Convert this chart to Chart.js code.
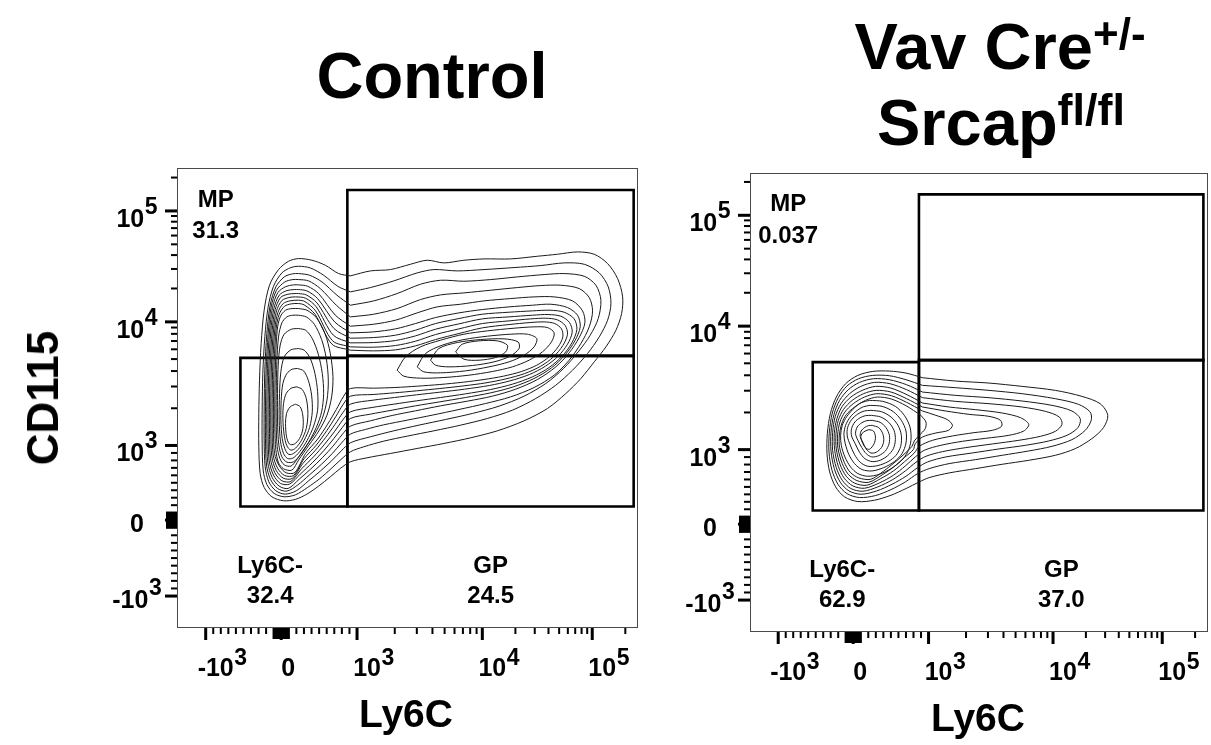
<!DOCTYPE html>
<html>
<head>
<meta charset="utf-8">
<title>CD115 vs Ly6C</title>
<script src="https://cdn.jsdelivr.net/npm/chart.js@4.4.1/dist/chart.umd.min.js"></script>
<style>
  html, body { margin: 0; padding: 0; background: #fff; }
  body {
    width: 1211px; height: 745px; position: relative; overflow: hidden;
    font-family: "Liberation Sans", Arial, sans-serif; font-weight: bold; color: #000;
  }
  .panel { position: absolute; left: 0; top: 0; width: 1211px; height: 745px; }
  .txt { position: absolute; white-space: nowrap; line-height: 1; }
  .sup { position: relative; }
</style>
</head>
<body>
<div class="panel"><canvas id="controlChart"></canvas></div>
<div class="panel"><canvas id="srcapChart"></canvas></div>

<div class="txt" style="left:432px; top:43px; font-size:65px; transform:translateX(-50%)">Control</div>
<div class="txt" style="left:1000px; top:14px; font-size:65px; transform:translateX(-50%)">Vav Cre<span class="sup" style="font-size:44px; top:-20px">+/-</span></div>
<div class="txt" style="left:1001px; top:90px; font-size:65px; transform:translateX(-50%)">Srcap<span class="sup" style="font-size:45px; top:-20px">fl/fl</span></div>
<div class="txt" style="left:43px; top:398px; font-size:44px; transform:translate(-50%,-50%) rotate(-90deg)">CD115</div>
<div class="txt" style="left:406px; top:694px; font-size:39px; transform:translateX(-50%)">Ly6C</div>
<div class="txt" style="left:978px; top:698px; font-size:39px; transform:translateX(-50%)">Ly6C</div>

<script>
// Axes are in display channels (0..1376), FlowJo biexponential style
const axisMin = 0;
const axisMax = 1376;

// Major ticks: value, channel on x / y, label (base + exponent)
const majorTickValues = [-1000, 0, 1000, 10000, 100000];
const xTickChannels = [85, 311, 538, 913, 1242];
const yTickChannels = [92, 320, 544, 915, 1248];
const tickBase = ["-10", "0", "10", "10", "10"];
const tickExp = ["3", "", "3", "4", "5"];

// Gates (channels): Ly6C- left, split, right / bottom, Ly6C- top, GP top, MP top
const gateX = [189, 509, 1366];
const gateY = [361, 807, 813, 1311];
const gateNames = ["MP", "Ly6C-", "GP"];
const controlPercents = ["31.3", "32.4", "24.5"];
const srcapPercents = ["0.037", "62.9", "37.0"];

// Contour lines (x, y pairs in channels)
const controlContours = [
  [518,1053, 578,1068, 638,1072, 698,1088, 748,1100, 798,1092, 858,1100, 918,1104, 998,1104, 1078,1112, 1138,1118, 1198,1125, 1248,1118, 1288,1090, 1318,1045, 1333,990, 1330,940, 1313,890, 1283,840, 1248,795, 1208,745, 1163,700, 1108,655, 1038,618, 958,588, 878,567, 798,550, 718,535, 638,520, 568,507, 518,495, 488,475, 458,450, 423,422, 388,398, 353,382, 318,378, 283,390, 260,418, 248,460, 244,540, 244,640, 246,740, 251,850, 260,950, 276,1025, 303,1072, 333,1097, 363,1105, 403,1100, 443,1085, 483,1060],
  [518,1005, 578,1018, 648,1038, 718,1062, 768,1072, 838,1068, 918,1072, 1008,1078, 1088,1084, 1158,1092, 1218,1088, 1263,1062, 1290,1020, 1298,970, 1288,920, 1263,870, 1228,820, 1183,770, 1133,725, 1073,685, 1003,650, 928,625, 848,605, 768,588, 688,572, 618,557, 558,540, 518,525, 490,502, 460,474, 426,444, 390,418, 354,396, 320,390, 290,400, 268,427, 257,470, 254,550, 254,650, 256,760, 262,870, 272,960, 288,1022, 313,1062, 340,1078, 363,1082, 398,1077, 438,1055, 480,1022],
  [518,965, 588,978, 658,1000, 728,1028, 788,1040, 858,1037, 938,1042, 1018,1050, 1098,1057, 1158,1060, 1218,1052, 1253,1025, 1268,980, 1260,925, 1236,875, 1200,825, 1156,775, 1103,730, 1038,692, 963,662, 883,640, 803,622, 723,605, 648,588, 578,570, 518,552, 491,528, 462,498, 428,467, 392,437, 356,408, 323,398, 295,408, 274,435, 263,480, 260,560, 260,660, 262,770, 268,880, 278,965, 295,1020, 320,1050, 344,1059, 363,1060, 396,1055, 433,1035, 478,995],
  [518,930, 588,938, 658,955, 728,982, 788,996, 858,1002, 938,1010, 1018,1018, 1088,1024, 1148,1025, 1203,1015, 1233,988, 1243,948, 1233,900, 1208,850, 1173,800, 1128,755, 1068,718, 998,690, 923,670, 843,652, 763,635, 688,620, 618,606, 563,592, 518,578, 492,552, 464,520, 432,488, 396,456, 360,425, 328,407, 300,415, 279,442, 267,485, 264,565, 264,660, 266,770, 272,880, 281,960, 297,1010, 322,1035, 346,1042, 363,1042, 393,1038, 428,1015, 476,965],
  [518,902, 588,908, 653,920, 718,942, 778,960, 848,968, 918,978, 998,985, 1068,990, 1128,990, 1183,978, 1213,948, 1220,912, 1203,868, 1173,822, 1133,780, 1078,742, 1013,713, 943,692, 868,677, 788,663, 713,648, 643,634, 578,618, 518,602, 493,576, 466,542, 435,508, 400,474, 364,442, 332,415, 305,422, 284,448, 271,492, 268,570, 268,665, 270,775, 276,885, 285,958, 301,1003, 325,1021, 348,1026, 363,1026, 390,1022, 423,1000, 473,935],
  [518,882, 588,885, 653,894, 713,910, 773,928, 843,942, 913,952, 993,960, 1063,965, 1118,968, 1168,958, 1198,935, 1206,900, 1190,858, 1160,815, 1120,777, 1068,745, 1006,720, 938,702, 863,688, 786,675, 713,663, 643,650, 578,638, 518,625, 494,598, 468,564, 438,528, 404,492, 368,458, 336,428, 309,430, 288,455, 275,498, 272,575, 272,670, 274,780, 280,888, 289,955, 305,995, 328,1009, 350,1012, 363,1012, 388,1008, 420,985, 471,915],
  [518,866, 588,868, 653,875, 713,890, 773,910, 843,925, 913,938, 993,944, 1063,948, 1116,950, 1158,944, 1188,924, 1196,892, 1181,852, 1152,812, 1113,778, 1063,750, 1003,728, 938,712, 863,699, 788,688, 716,678, 648,668, 583,658, 518,645, 495,620, 470,585, 441,548, 408,510, 372,474, 340,436, 313,438, 292,462, 279,504, 276,580, 276,675, 278,784, 284,890, 293,952, 309,988, 331,998, 352,1000, 363,1000, 386,996, 418,972, 469,895],
  [518,852, 588,853, 653,859, 713,873, 773,893, 843,909, 913,924, 993,930, 1063,935, 1110,937, 1148,932, 1174,913, 1182,884, 1168,848, 1140,812, 1102,782, 1054,757, 996,738, 934,724, 860,713, 786,704, 716,696, 650,688, 586,680, 518,668, 496,643, 472,607, 444,568, 412,528, 376,490, 344,445, 317,446, 296,469, 283,510, 280,585, 280,680, 282,788, 288,892, 297,948, 313,979, 334,988, 354,990, 384,986, 416,960, 467,875],
  [518,840, 588,839, 653,844, 713,857, 773,877, 843,894, 913,910, 993,918, 1058,924, 1103,926, 1138,921, 1161,904, 1168,878, 1154,844, 1126,810, 1088,782, 1040,760, 984,744, 924,732, 858,723, 786,715, 716,708, 650,702, 586,697, 518,692, 497,668, 474,630, 447,588, 416,545, 380,505, 348,454, 321,454, 300,476, 287,515, 284,590, 284,685, 286,792, 292,894, 301,943, 317,970, 337,978, 363,980, 382,976, 414,948, 465,858],
  [518,830, 588,828, 653,831, 713,843, 773,862, 843,880, 913,897, 993,907, 1056,913, 1098,915, 1130,910, 1150,894, 1154,870, 1140,840, 1113,810, 1076,785, 1030,766, 976,752, 918,742, 856,734, 786,727, 718,722, 652,718, 588,716, 518,715, 498,692, 476,652, 450,608, 420,563, 384,520, 352,463, 326,462, 305,483, 291,520, 288,595, 288,690, 290,795, 296,896, 305,938, 321,962, 341,969, 363,970, 380,966, 412,938, 463,848],
  [363,955, 388,950, 416,928, 442,880, 458,820, 466,750, 462,690, 448,635, 424,588, 394,545, 363,500, 343,470, 318,474, 303,492, 295,530, 292,600, 292,695, 294,795, 299,890, 308,930, 324,950, 344,955],
  [363,935, 386,930, 410,908, 432,862, 446,805, 452,740, 448,680, 434,625, 412,580, 384,540, 358,502, 340,482, 320,486, 307,505, 299,540, 296,610, 296,700, 298,795, 303,870, 313,912, 328,930, 346,935],
  [363,895, 384,890, 404,865, 422,818, 434,760, 438,700, 432,645, 416,598, 394,555, 370,518, 348,495, 328,494, 313,510, 304,545, 300,615, 300,700, 302,785, 308,845, 320,878, 342,893],
  [362,835, 380,830, 398,805, 412,760, 420,705, 420,650, 408,602, 388,558, 366,525, 346,506, 330,505, 318,520, 309,555, 305,620, 306,700, 310,765, 320,810, 340,831],
  [360,775, 378,768, 392,740, 402,695, 404,645, 396,598, 380,560, 362,532, 344,518, 332,518, 322,534, 314,565, 310,620, 311,680, 316,730, 328,760, 344,773],
  [358,720, 374,712, 386,685, 391,640, 386,595, 372,560, 354,536, 340,530, 328,543, 320,575, 316,625, 318,670, 326,700, 341,716],
  [354,668, 368,660, 376,632, 376,595, 366,565, 350,548, 336,548, 327,570, 324,610, 327,640, 338,660],
  [658,770, 683,810, 728,840, 788,860, 858,878, 928,888, 1008,896, 1068,900, 1108,898, 1128,882, 1120,855, 1093,825, 1053,800, 1003,780, 943,766, 873,755, 798,748, 728,746, 678,752],
  [718,780, 743,820, 793,845, 858,862, 928,872, 998,878, 1048,878, 1076,865, 1068,840, 1038,815, 993,795, 933,780, 863,768, 788,762, 738,765],
  [758,800, 783,835, 838,853, 908,862, 978,864, 1020,855, 1023,835, 996,812, 948,795, 883,784, 813,780, 773,785],
  [833,825, 853,848, 903,858, 958,858, 988,845, 983,825, 953,808, 903,800, 858,803]
];

const srcapContours = [
  [520,760, 620,750, 720,744, 820,734, 920,722, 1000,704, 1055,682, 1078,647, 1065,610, 1030,577, 980,547, 920,527, 840,512, 760,500, 680,487, 600,474, 540,460, 510,447, 470,427, 425,407, 375,392, 325,388, 285,402, 258,432, 240,477, 232,532, 233,592, 242,652, 260,702, 288,742, 325,767, 370,779, 420,780, 470,774],
  [520,737, 620,730, 720,722, 820,712, 920,697, 990,680, 1025,657, 1028,632, 1010,602, 970,574, 910,554, 840,540, 760,527, 680,514, 600,502, 540,487, 505,472, 468,447, 425,424, 378,406, 330,400, 292,412, 265,440, 247,482, 238,537, 239,597, 248,654, 266,700, 292,735, 327,757, 370,767, 420,766, 470,754],
  [520,717, 620,707, 720,700, 820,690, 910,677, 970,660, 995,637, 988,610, 955,587, 900,570, 830,557, 750,546, 670,534, 590,522, 535,507, 505,490, 470,464, 428,440, 382,420, 335,410, 298,420, 272,446, 254,487, 244,540, 244,597, 253,650, 270,692, 296,724, 330,746, 372,757, 420,754, 472,739],
  [520,700, 620,689, 720,682, 820,672, 890,659, 932,642, 940,620, 920,599, 875,584, 810,572, 730,561, 650,550, 580,538, 530,524, 500,506, 468,480, 430,454, 385,432, 340,419, 304,427, 278,452, 260,490, 249,542, 249,595, 257,644, 274,682, 300,712, 334,734, 375,746, 422,742, 472,724],
  [520,684, 600,672, 680,664, 760,654, 815,640, 840,620, 825,600, 780,587, 710,578, 640,569, 575,557, 525,542, 498,522, 468,495, 432,467, 390,444, 345,428, 310,435, 284,458, 266,494, 255,544, 254,593, 262,638, 278,674, 304,702, 338,722, 378,734, 424,729, 473,709],
  [520,672, 590,660, 660,650, 720,644, 755,632, 758,614, 730,602, 675,595, 610,585, 550,572, 510,554, 495,534, 466,508, 432,480, 394,457, 352,437, 316,443, 290,464, 272,498, 260,546, 259,590, 266,632, 282,665, 308,692, 342,712, 380,722, 425,717, 472,697],
  [520,660, 560,647, 595,634, 610,617, 598,602, 560,594, 520,582, 498,562, 492,544, 465,520, 433,492, 398,468, 358,446, 322,451, 296,470, 278,502, 265,548, 264,588, 271,627, 286,657, 311,682, 345,702, 382,712, 426,706, 472,686],
  [515,647, 530,627, 528,607, 510,587, 495,570, 488,554, 464,530, 434,504, 402,479, 364,455, 328,459, 302,476, 284,506, 270,550, 269,585, 276,621, 290,649, 315,672, 348,692, 384,702, 426,696, 470,676],
  [360,692, 400,689, 438,674, 465,647, 482,612, 485,572, 475,537, 455,510, 425,487, 390,470, 355,464, 325,472, 303,492, 286,522, 275,557, 273,587, 278,617, 292,644, 315,670, 335,685],
  [362,677, 398,674, 432,658, 456,632, 470,600, 470,564, 458,532, 435,508, 403,490, 368,480, 338,484, 315,502, 298,529, 287,562, 283,590, 288,617, 302,642, 323,662, 342,673],
  [364,662, 396,658, 425,642, 446,617, 456,587, 454,554, 440,527, 416,508, 385,496, 355,494, 332,506, 315,529, 302,558, 293,585, 294,610, 306,634, 325,651, 344,660],
  [366,647, 394,642, 418,626, 434,602, 438,574, 432,547, 415,526, 392,512, 368,508, 346,517, 330,536, 317,562, 306,585, 306,607, 316,627, 332,640, 348,646],
  [368,632, 392,626, 410,610, 420,587, 419,562, 408,540, 388,526, 367,522, 350,532, 337,550, 325,572, 318,592, 323,612, 337,625, 352,631],
  [368,617, 388,610, 400,592, 403,570, 396,550, 380,536, 364,534, 350,546, 340,566, 332,584, 335,600, 346,611, 357,616],
  [358,604, 372,600, 378,582, 374,562, 360,545, 348,550, 338,567, 334,584, 342,597]
];

// Gate label anchors in channels: [x, name baseline, percent baseline]
const gateTextAnchors = [[115, 1260, 1166], [278, 162, 70], [938, 162, 70]];

// minor ticks: linear part around zero, log decades above
const minorTickValues = [];
for (let k = 1; k <= 9; k++) minorTickValues.push(-k * 100, k * 100, -k * 10, k * 10);
for (let k = 2; k <= 9; k++) minorTickValues.push(k * 1000, k * 10000);
minorTickValues.push(200000);

function toChannel(v, ch) {
  if (v <= 1000) return ch[1] + (v / 1000) * (v < 0 ? ch[1] - ch[0] : ch[2] - ch[1]);
  const d = Math.log10(v);
  if (d <= 4) return ch[2] + (d - 3) * (ch[3] - ch[2]);
  return ch[3] + (d - 4) * (ch[4] - ch[3]);
}

const FONT = '"Liberation Sans", Arial, sans-serif';

const flowAxesPlugin = {
  id: "flowAxes",
  afterDraw(chart, args, opts) {
    const { ctx, chartArea: a, scales } = chart;
    const xs = scales.x, ys = scales.y;
    ctx.save();

    // plot frame
    ctx.strokeStyle = "#4a4a4a";
    ctx.lineWidth = 1;
    const L = Math.round(a.left), T = Math.round(a.top);
    ctx.strokeRect(L + 0.5, T + 0.5, Math.round(a.right) - L, Math.round(a.bottom) - T);

    ctx.fillStyle = "#000";
    const bottom = Math.round(a.bottom) + 1;
    const left = L;

    // minor ticks (the dense ones round zero are drawn long, as in FlowJo)
    minorTickValues.forEach((v) => {
      const near0 = Math.abs(v) <= 100;
      const len = near0 ? 11 : 6;
      const w = near0 ? 2.2 : 2;
      const cx = toChannel(v, xTickChannels);
      if (cx > axisMin && cx < axisMax) ctx.fillRect(xs.getPixelForValue(cx) - w / 2, bottom, w, len);
      const cy = toChannel(v, yTickChannels);
      if (cy > axisMin && cy < axisMax) ctx.fillRect(left - len, ys.getPixelForValue(cy) - w / 2, len, w);
    });
    // major ticks
    xTickChannels.forEach((c) => ctx.fillRect(xs.getPixelForValue(c) - 1.5, bottom, 3, 12));
    yTickChannels.forEach((c) => ctx.fillRect(left - 12, ys.getPixelForValue(c) - 1.5, 12, 3));

    // tick labels with exponents
    const baseFont = "bold 25px " + FONT;
    const expFont = "bold 23px " + FONT;
    ctx.textBaseline = "alphabetic";
    majorTickValues.forEach((v, i) => {
      const base = tickBase[i], exp = tickExp[i];
      ctx.font = baseFont;
      const wb = ctx.measureText(base).width;
      ctx.font = expFont;
      const we = exp ? ctx.measureText(exp).width : 0;

      // x axis
      const px = xs.getPixelForValue(xTickChannels[i]);
      const bx = px + (exp ? 10 : 7) - wb / 2;
      const by = bottom + 48;
      ctx.font = baseFont; ctx.textAlign = "left";
      ctx.fillText(base, bx, by);
      if (exp) { ctx.font = expFont; ctx.fillText(exp, bx + wb + 0.5, by - 11); }

      // y axis
      const py = ys.getPixelForValue(yTickChannels[i]);
      const total = wb + (exp ? we + 0.5 : 0);
      const lx = left - 40 - total / 2;
      const ly = py + (exp && v > 0 ? 16 : 12);
      ctx.font = baseFont;
      ctx.fillText(base, lx, ly);
      if (exp) { ctx.font = expFont; ctx.fillText(exp, lx + wb + 0.5, ly - 13); }
    });

    // gate names and percentages
    ctx.font = "bold 24px " + FONT;
    ctx.textAlign = "center";
    gateNames.forEach((name, i) => {
      const [gx, gy1, gy2] = gateTextAnchors[i];
      const tx = xs.getPixelForValue(gx);
      ctx.fillText(name, tx, ys.getPixelForValue(gy1));
      ctx.fillText(opts.percents[i], tx, ys.getPixelForValue(gy2));
    });
    ctx.restore();
  },
};

function contourSets(list) {
  return list.map((flat) => {
    const pts = [];
    for (let i = 0; i < flat.length; i += 2) pts.push({ x: flat[i], y: flat[i + 1] });
    pts.push(pts[0]);
    return {
      data: pts, showLine: true, borderColor: "#1a1a1a", borderWidth: 1,
      pointRadius: 0, tension: 0.3, fill: false,
    };
  });
}

function rect(x0, y0, x1, y1) {
  return [
    { x: x0, y: y0 }, { x: x1, y: y0 }, { x: x1, y: y1 },
    { x: x0, y: y1 }, { x: x0, y: y0 }, { x: x1, y: y0 },
  ];
}

function gateSets() {
  const gates = [
    rect(gateX[0], gateY[0], gateX[1], gateY[1]), // Ly6C-
    rect(gateX[1], gateY[0], gateX[2], gateY[2]), // GP
    rect(gateX[1], gateY[2], gateX[2], gateY[3]), // MP
  ];
  return gates.map((g) => ({
    data: g, showLine: true, borderColor: "#000", borderWidth: 2.6,
    pointRadius: 0, tension: 0, fill: false,
  }));
}

function makeChart(id, pad, contours, percents) {
  return new Chart(document.getElementById(id), {
    type: "scatter",
    data: { datasets: [...contourSets(contours), ...gateSets()] },
    options: {
      responsive: true,
      maintainAspectRatio: false,
      animation: false,
      events: [],
      layout: { padding: pad },
      scales: {
        x: { type: "linear", min: axisMin, max: axisMax, display: false },
        y: { type: "linear", min: axisMin, max: axisMax, display: false },
      },
      plugins: {
        legend: { display: false },
        tooltip: { enabled: false },
        flowAxes: { percents: percents },
      },
    },
    plugins: [flowAxesPlugin],
  });
}

makeChart("controlChart", { left: 177.3, top: 168.3, right: 574, bottom: 118.3 }, controlContours, controlPercents);
makeChart("srcapChart", { left: 750, top: 172.7, right: 4.3, bottom: 114.3 }, srcapContours, srcapPercents);
</script>
</body>
</html>
